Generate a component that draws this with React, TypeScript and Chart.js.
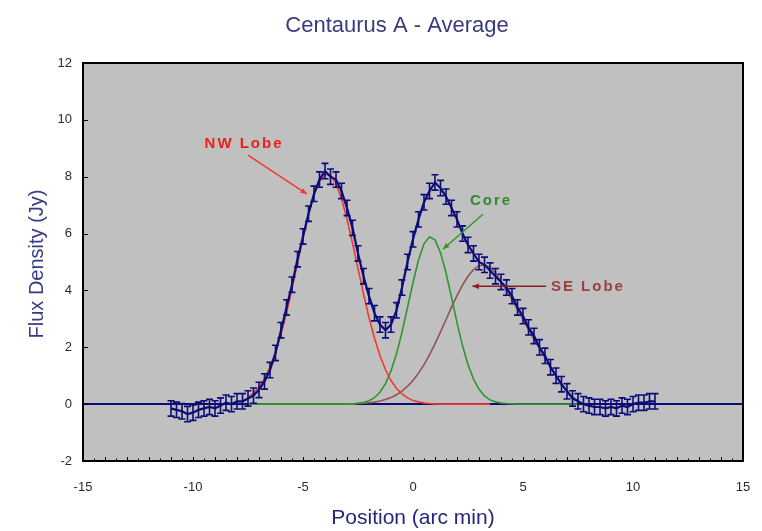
import React, { useEffect, useRef } from 'react';
import { Chart, registerables } from 'chart.js';

Chart.register(...registerables);

// Scan positions (arc min) and averaged flux density (Jy)
const POSITION = [
  -11.0, -10.75, -10.5, -10.25, -10.0, -9.75, -9.5, -9.25, -9.0, -8.75,
  -8.5, -8.25, -8.0, -7.75, -7.5, -7.25, -7.0, -6.75, -6.5, -6.25,
  -6.0, -5.75, -5.5, -5.25, -5.0, -4.75, -4.5, -4.25, -4.0, -3.75,
  -3.5, -3.25, -3.0, -2.75, -2.5, -2.25, -2.0, -1.75, -1.5, -1.25,
  -1.0, -0.75, -0.5, -0.25, 0.0, 0.25, 0.5, 0.75, 1.0, 1.25,
  1.5, 1.75, 2.0, 2.25, 2.5, 2.75, 3.0, 3.25, 3.5, 3.75,
  4.0, 4.25, 4.5, 4.75, 5.0, 5.25, 5.5, 5.75, 6.0, 6.25,
  6.5, 6.75, 7.0, 7.25, 7.5, 7.75, 8.0, 8.25, 8.5, 8.75,
  9.0, 9.25, 9.5, 9.75, 10.0, 10.25, 10.5, 10.75, 11.0,
];

const FLUX = [
  -0.15, -0.2, -0.25, -0.35, -0.3, -0.2, -0.15, -0.1, -0.15, -0.05,
  0.05, 0.0, 0.1, 0.1, 0.2, 0.3, 0.5, 0.8, 1.2, 1.8,
  2.6, 3.4, 4.2, 5.1, 5.9, 6.7, 7.4, 7.9, 8.2, 8.0,
  7.9, 7.5, 6.9, 6.2, 5.3, 4.5, 3.8, 3.2, 2.8, 2.6,
  2.8, 3.3, 4.1, 5.0, 5.8, 6.5, 7.1, 7.5, 7.8, 7.6,
  7.3, 6.9, 6.5, 6.0, 5.6, 5.3, 5.0, 4.9, 4.7, 4.5,
  4.3, 4.1, 3.8, 3.4, 3.1, 2.7, 2.4, 2.0, 1.7, 1.3,
  1.0, 0.7, 0.45, 0.2, 0.1, 0.0, -0.05, -0.1, -0.1, -0.15,
  -0.1, -0.15, -0.05, -0.1, 0.0, 0.05, 0.05, 0.1, 0.1,
];

// One-sigma uncertainty on each averaged point (Jy)
const FLUX_ERROR = 0.27;

// Positions at which the fitted components are evaluated
const COMPONENT_POSITION = [
  -7.5, -7.25, -7.0, -6.75, -6.5, -6.25, -6.0, -5.75, -5.5, -5.25,
  -5.0, -4.75, -4.5, -4.25, -4.0, -3.75, -3.5, -3.25, -3.0, -2.75,
  -2.5, -2.25, -2.0, -1.75, -1.5, -1.25, -1.0, -0.75, -0.5, -0.25,
  0.0, 0.25, 0.5, 0.75, 1.0, 1.25, 1.5, 1.75, 2.0, 2.25,
  2.5, 2.75, 3.0, 3.25, 3.5, 3.75, 4.0, 4.25, 4.5, 4.75,
  5.0, 5.25, 5.5, 5.75, 6.0, 6.25, 6.5, 6.75, 7.0, 7.25, 7.5,
];

const NW_LOBE = [
  0.24, 0.39, 0.6, 0.9, 1.3, 1.82, 2.46, 3.21, 4.05, 4.95,
  5.84, 6.66, 7.35, 7.84, 8.08, 8.05, 7.76, 7.23, 6.51, 5.67,
  4.77, 3.88, 3.05, 2.32, 1.71, 1.21, 0.83, 0.55, 0.36, 0.22,
  0.13, 0.08, 0.04, 0.02, 0.01, 0, 0, 0, 0, 0,
  0, 0, 0, 0, 0, null, null, null, null, null,
  null, null, null, null, null, null, null, null, null, null, null,
];

const CORE = [
  0, 0, 0, 0, 0, 0, 0, 0, 0, 0,
  0, 0, 0, 0, 0, 0, 0, 0, 0, 0,
  0.03, 0.06, 0.12, 0.23, 0.42, 0.72, 1.17, 1.77, 2.53, 3.4,
  4.28, 5.07, 5.64, 5.89, 5.78, 5.33, 4.62, 3.76, 2.87, 2.06,
  1.39, 0.88, 0.52, 0.29, 0.15, 0.08, 0.04, 0.02, 0.01, 0,
  0, 0, 0, 0, 0, 0, 0, 0, 0, 0, 0,
];

const SE_LOBE = [
  0, 0, 0, 0, 0, 0, 0, 0, 0, 0,
  0, 0, 0, 0, 0, 0, 0, 0, 0.01, 0.01,
  0.02, 0.03, 0.05, 0.07, 0.11, 0.16, 0.23, 0.33, 0.46, 0.63,
  0.83, 1.09, 1.39, 1.73, 2.12, 2.54, 2.97, 3.41, 3.82, 4.19,
  4.5, 4.73, 4.87, 4.9, 4.82, 4.62, 4.32, 4.0, 3.68, 3.33,
  2.98, 2.62, 2.28, 1.95, 1.62, 1.3, 1.0, 0.72, 0.47, 0.26, 0.12,
];

const X_TICKS = [-15, -10, -5, 0, 5, 10, 15];
const Y_TICKS = [-2, 0, 2, 4, 6, 8, 10, 12];

const FONT = "'Liberation Sans', Arial, sans-serif";
const NAVY = '#0c0c78';

const toPoints = (xs: number[], ys: (number | null)[]) =>
  xs.map((x, i) => ({ x, y: ys[i] }));

// Gray plot area, drawn before the zero line and the curves
const plotBackground = {
  id: 'plotBackground',
  beforeDraw(chart: any) {
    const { ctx, chartArea: a } = chart;
    ctx.save();
    ctx.fillStyle = '#c0c0c0';
    ctx.fillRect(a.left, a.top, a.right - a.left, a.bottom - a.top);
    ctx.restore();
  },
};

// Vertical error bars with caps on the measured points
const errorBars = {
  id: 'errorBars',
  afterDatasetsDraw(chart: any) {
    const { ctx, scales } = chart;
    const xs = scales.x;
    const ys = scales.y;
    ctx.save();
    ctx.strokeStyle = NAVY;
    ctx.lineWidth = 1.6;
    ctx.beginPath();
    POSITION.forEach((p, i) => {
      const px = xs.getPixelForValue(p);
      const top = ys.getPixelForValue(FLUX[i] + FLUX_ERROR);
      const bot = ys.getPixelForValue(FLUX[i] - FLUX_ERROR);
      ctx.moveTo(px, top);
      ctx.lineTo(px, bot);
      ctx.moveTo(px - 3.5, top);
      ctx.lineTo(px + 3.5, top);
      ctx.moveTo(px - 3.5, bot);
      ctx.lineTo(px + 3.5, bot);
    });
    ctx.stroke();
    ctx.restore();
  },
};

// Frame, inward tick marks, titles and the component call-outs
const frameAndText = {
  id: 'frameAndText',
  afterDraw(chart: any, _args: any, opts: any) {
    const { ctx, chartArea: a, scales } = chart;
    const xs = scales.x;
    const ys = scales.y;
    ctx.save();

    // minor/major ticks along the bottom edge
    ctx.strokeStyle = '#000';
    ctx.lineWidth = 1;
    ctx.beginPath();
    for (let v = -15; v <= 15; v += 0.5) {
      const px = Math.round(xs.getPixelForValue(v)) + 0.5;
      const len = Number.isInteger(v) ? 4 : 2.5;
      ctx.moveTo(px, a.bottom);
      ctx.lineTo(px, a.bottom - len);
    }
    Y_TICKS.forEach((v) => {
      const py = Math.round(ys.getPixelForValue(v)) + 0.5;
      ctx.moveTo(a.left, py);
      ctx.lineTo(a.left + 5, py);
    });
    ctx.stroke();

    // plot frame
    ctx.lineWidth = 2;
    ctx.strokeRect(a.left, a.top, a.right - a.left, a.bottom - a.top);

    // chart and axis titles
    ctx.fillStyle = '#3a3a7c';
    ctx.font = `22px ${FONT}`;
    ctx.textAlign = 'center';
    ctx.textBaseline = 'alphabetic';
    ctx.fillText('Centaurus A - Average', 397, 32);

    ctx.fillStyle = '#26267c';
    ctx.font = `21px ${FONT}`;
    ctx.fillText('Position (arc min)', (a.left + a.right) / 2, 524);

    ctx.save();
    ctx.fillStyle = '#3a3a84';
    ctx.translate(37, (a.top + a.bottom) / 2 + 2);
    ctx.rotate(-Math.PI / 2);
    ctx.textBaseline = 'middle';
    ctx.font = `20px ${FONT}`;
    ctx.fillText('Flux Density (Jy)', 0, 0);
    ctx.restore();

    // call-out labels with arrows
    (opts.items || []).forEach((it: any) => {
      const x1 = xs.getPixelForValue(it.from[0]);
      const y1 = ys.getPixelForValue(it.from[1]);
      const x2 = xs.getPixelForValue(it.to[0]);
      const y2 = ys.getPixelForValue(it.to[1]);
      ctx.strokeStyle = it.lineColor;
      ctx.fillStyle = it.lineColor;
      ctx.lineWidth = 1.5;
      ctx.beginPath();
      ctx.moveTo(x1, y1);
      ctx.lineTo(x2, y2);
      ctx.stroke();
      const ang = Math.atan2(y2 - y1, x2 - x1);
      const h = 7;
      ctx.beginPath();
      ctx.moveTo(x2, y2);
      ctx.lineTo(x2 - h * Math.cos(ang - 0.4), y2 - h * Math.sin(ang - 0.4));
      ctx.lineTo(x2 - h * Math.cos(ang + 0.4), y2 - h * Math.sin(ang + 0.4));
      ctx.closePath();
      ctx.fill();

      ctx.fillStyle = it.textColor;
      ctx.font = `bold 15px ${FONT}`;
      (ctx as any).letterSpacing = '2px';
      ctx.textAlign = 'center';
      ctx.textBaseline = 'middle';
      ctx.fillText(it.text, xs.getPixelForValue(it.at[0]), ys.getPixelForValue(it.at[1]));
      (ctx as any).letterSpacing = '0px';
    });

    ctx.restore();
  },
};

export default function App() {
  const canvasRef = useRef<HTMLCanvasElement | null>(null);

  useEffect(() => {
    const canvas = canvasRef.current;
    if (!canvas) return;

    const lineStyle = (color: string, width: number) => ({
      borderColor: color,
      backgroundColor: color,
      borderWidth: width,
      pointRadius: 0,
      tension: 0,
      fill: false,
      spanGaps: false,
    });

    const chart = new Chart(canvas, {
      type: 'line',
      data: {
        datasets: [
          { label: 'Average', data: toPoints(POSITION, FLUX), ...lineStyle(NAVY, 2.2) },
          { label: 'NW Lobe', data: toPoints(COMPONENT_POSITION, NW_LOBE), ...lineStyle('#f03a2e', 1.6) },
          { label: 'Core', data: toPoints(COMPONENT_POSITION, CORE), ...lineStyle('#2f962f', 1.6) },
          { label: 'SE Lobe', data: toPoints(COMPONENT_POSITION, SE_LOBE), ...lineStyle('#8e5454', 1.6) },
        ],
      },
      options: {
        animation: false,
        responsive: false,
        devicePixelRatio: 1,
        layout: { padding: { left: 0, right: 19, top: 63, bottom: 0 } },
        plugins: {
          legend: { display: false },
          tooltip: { enabled: false },
          title: { display: false },
          frameAndText: {
            items: [
              { text: 'NW Lobe', at: [-7.68, 9.15], from: [-7.5, 8.76], to: [-4.82, 7.39], textColor: '#e8221a', lineColor: '#f03a2e' },
              { text: 'Core', at: [3.55, 7.14], from: [3.18, 6.68], to: [1.36, 5.45], textColor: '#2f8a2f', lineColor: '#2f962f' },
              { text: 'SE Lobe', at: [7.95, 4.12], from: [6.05, 4.15], to: [2.7, 4.15], textColor: '#9a4040', lineColor: '#8a1c24' },
            ],
          },
        } as any,
        scales: {
          x: {
            type: 'linear',
            min: -15,
            max: 15,
            afterFit: (s: any) => {
              s.height = 70;
              s.paddingLeft = 0;
              s.paddingRight = 0;
            },
            afterBuildTicks: (s: any) => { s.ticks = X_TICKS.map((v) => ({ value: v })); },
            ticks: { font: { family: FONT, size: 13 }, color: '#2a2a2a', padding: 19, maxRotation: 0 },
            grid: { display: false, drawTicks: false },
            border: { display: false },
          },
          y: {
            type: 'linear',
            min: -2,
            max: 12,
            afterFit: (s: any) => { s.width = 83; },
            afterBuildTicks: (s: any) => { s.ticks = Y_TICKS.map((v) => ({ value: v })); },
            ticks: { font: { family: FONT, size: 13 }, color: '#2a2a2a', padding: 11 },
            grid: {
              drawTicks: false,
              color: (c: any) => (c.tick && c.tick.value === 0 ? NAVY : 'rgba(0,0,0,0)'),
              lineWidth: 2,
            },
            border: { display: false },
          },
        },
      },
      plugins: [plotBackground, errorBars, frameAndText],
    });

    return () => chart.destroy();
  }, []);

  return (
    <div style={{ position: 'fixed', left: 0, top: 0, width: 762, height: 531, background: '#fff' }}>
      <canvas ref={canvasRef} width={762} height={531} style={{ width: 762, height: 531, display: 'block' }} />
    </div>
  );
}
